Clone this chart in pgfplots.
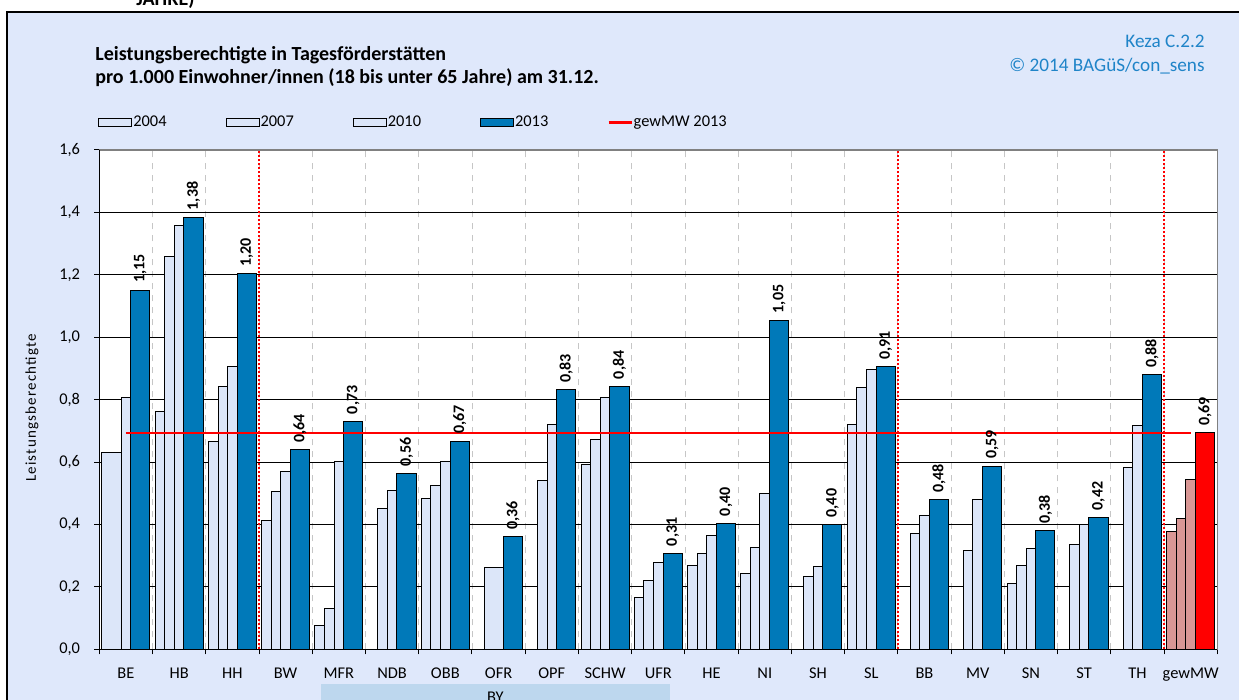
\documentclass[border=0pt]{standalone}
\usepackage{fontspec}
\setmainfont{Carlito}
\usepackage{pgfplots}
\pgfplotsset{compat=1.18}
\definecolor{bgblue}{HTML}{DFE8FB}
\definecolor{barlight}{HTML}{DCE6F9}
\definecolor{barblue}{HTML}{0079B9}
\definecolor{barpink}{HTML}{D99795}
\definecolor{keza}{HTML}{1F84C8}
\definecolor{bybox}{HTML}{BDD7EE}
\newcommand{\tickfont}{\fontsize{8.2}{9.8}\selectfont}
\pgfplotsset{
  barleg/.style={legend image code/.code={\draw[##1] (0pt,-2pt) rectangle (16.5pt,2pt);}},
  lineleg/.style={legend image code/.code={\draw[##1] (0pt,0pt) -- (11.5pt,0pt);}},
  lbl/.style={nodes near coords,
    nodes near coords style={rotate=90, anchor=west, text=black, font=\fontsize{8}{9}\selectfont\bfseries,
    /pgf/number format/fixed, /pgf/number format/fixed zerofill, /pgf/number format/precision=2}},
}
\begin{document}
\begin{tikzpicture}
\clip (-49.65pt,-25.35pt) rectangle (569.85pt,324.65pt);
\fill[white] (-49.65pt,-25.35pt) rectangle (569.85pt,324.65pt);
\draw[black, line width=0.8pt, fill=bgblue] (-46.15pt,318.65pt) rectangle (590pt,-45pt);
\node[anchor=base west, inner sep=0pt, font=\fontsize{10}{12}\selectfont\bfseries] at (18.35pt,321.65pt) {JAHRE)};
\node[anchor=base west, inner sep=0pt, font=\fontsize{10}{12}\selectfont\bfseries] at (-2.15pt,294.15pt) {Leistungsberechtigte in Tagesförderstätten};
\node[anchor=base west, inner sep=0pt, font=\fontsize{10}{12}\selectfont\bfseries] at (-2.15pt,282.65pt) {pro 1.000 Einwohner/innen (18 bis unter 65 Jahre) am 31.12.};
\node[anchor=base east, inner sep=0pt, text=keza, font=\fontsize{9.6}{11}\selectfont] at (552.85pt,300.65pt) {Keza C.2.2};
\node[anchor=base east, inner sep=0pt, text=keza, font=\fontsize{9.6}{11}\selectfont] at (552.85pt,288.65pt) {© 2014 BAGüS/con\_sens};
\fill[bybox] (110.7pt,-17.35pt) rectangle (285.35pt,-45pt);
\node[anchor=north, inner sep=0pt, font=\tickfont] at (198pt,-21.3pt) {BY};
\node[rotate=90, inner sep=0pt, font=\fontsize{7.5}{9}\selectfont\addfontfeatures{LetterSpace=8}] at (-33.65pt,120.65pt) {Leistungsberechtigte};
\begin{axis}[
  at={(0pt,0pt)}, anchor=south west,
  width=559pt, height=249.65pt, scale only axis,
  xmin=-0.5, xmax=20.5, ymin=0, ymax=1.6,
  ybar, bar width=0.36,
  axis background/.style={fill=white},
  axis line style={draw=gray, line width=0.6pt},
  xtick={-0.5,0.5,...,20.5}, xticklabels={},
  extra x ticks={0,1,...,20},
  extra x tick labels={BE,HB,HH,BW,MFR,NDB,OBB,OFR,OPF,SCHW,UFR,HE,NI,SH,SL,BB,MV,SN,ST,TH,gewMW},
  extra x tick style={major tick length=0pt, grid=none},
  ytick={0,0.2,0.4,0.6,0.8,1.0,1.2,1.4,1.6},
  xtick pos=bottom, ytick pos=left,
  tick align=outside, major tick length=2.5pt,
  tick style={black, line width=0.5pt},
  xmajorgrids, ymajorgrids,
  x grid style={gray!45, dashed, line width=0.4pt},
  y grid style={black, line width=0.5pt},
  /pgf/number format/assume math mode=true,
  /pgf/number format/use comma,
  yticklabel style={font=\tickfont, xshift=-3.6pt, /pgf/number format/fixed, /pgf/number format/fixed zerofill, /pgf/number format/precision=1},
  xticklabel style={font=\tickfont, yshift=-5.8pt},
  legend columns=5,
  legend style={at={(axis description cs:-0.0012,1.055)}, anchor=west, draw=none, fill=none, inner sep=0pt,
    font=\tickfont, nodes={inner sep=0.5pt},
    /tikz/every even column/.append style={column sep=29pt}},
  clip=false,
]
% 2004
\addplot[bar shift=-0.27, fill=barlight, draw=black, line width=0.5pt, barleg]
  coordinates {(0,0.630) (1,0.763) (2,0.667) (3,0.413) (4,0.077) (6,0.484) (9,0.592) (10,0.165) (11,0.269) (12,0.244) (14,0.719) (17,0.212)};
\addlegendentry{2004}
\addplot[forget plot, bar shift=-0.27, fill=barpink, draw=black, line width=0.5pt]
  coordinates {(20,0.377)};
% 2007
\addplot[bar shift=-0.09, fill=barlight, draw=black, line width=0.5pt, barleg]
  coordinates {(1,1.260) (2,0.843) (3,0.505) (4,0.132) (5,0.452) (6,0.524) (7,0.261) (8,0.540) (9,0.671) (10,0.221) (11,0.308) (12,0.325) (13,0.233) (14,0.839) (15,0.372) (16,0.316) (17,0.269) (18,0.336) (19,0.583)};
\addlegendentry{2007}
\addplot[forget plot, bar shift=-0.09, fill=barpink, draw=black, line width=0.5pt]
  coordinates {(20,0.420)};
% 2010
\addplot[bar shift=0.09, fill=barlight, draw=black, line width=0.5pt, barleg]
  coordinates {(0,0.808) (1,1.359) (2,0.907) (3,0.571) (4,0.603) (5,0.508) (6,0.603) (8,0.719) (9,0.808) (10,0.277) (11,0.365) (12,0.500) (13,0.265) (14,0.898) (15,0.428) (16,0.480) (17,0.324) (18,0.400) (19,0.716)};
\addlegendentry{2010}
\addplot[forget plot, bar shift=0.09, fill=barpink, draw=black, line width=0.5pt]
  coordinates {(20,0.544)};
% 2013
\addplot[bar shift=0.27, fill=barblue, draw=black, line width=0.5pt, barleg, lbl]
  coordinates {(0,1.151) (1,1.384) (2,1.203) (3,0.639) (4,0.731) (5,0.564) (6,0.667) (7,0.360) (8,0.831) (9,0.843) (10,0.308) (11,0.404) (12,1.054) (13,0.400) (14,0.906) (15,0.479) (16,0.587) (17,0.380) (18,0.423) (19,0.879)};
\addlegendentry{2013}
\addplot[forget plot, bar shift=0.27, fill=red, draw=black, line width=0.5pt, lbl]
  coordinates {(20,0.694)};
% separators
\draw[red, line width=1pt, dash pattern=on 1pt off 1pt] (2.5,0) -- (2.5,1.6);
\draw[red, line width=1pt, dash pattern=on 1pt off 1pt] (14.5,0) -- (14.5,1.6);
\draw[red, line width=1pt, dash pattern=on 1pt off 1pt] (19.5,0) -- (19.5,1.6);
% mean line
\addplot[sharp plot, red, line width=1.2pt, mark=none, lineleg]
  coordinates {(0,0.694) (1,0.694) (2,0.694) (3,0.694) (4,0.694) (5,0.694) (6,0.694) (7,0.694) (8,0.694) (9,0.694) (10,0.694) (11,0.694) (12,0.694) (13,0.694) (14,0.694) (15,0.694) (16,0.694) (17,0.694) (18,0.694) (19,0.694) (20,0.694)};
\addlegendentry{gewMW 2013}
\draw[black, line width=0.6pt] (rel axis cs:0,1) -- (rel axis cs:0,0) -- (rel axis cs:1,0);
\end{axis}
\end{tikzpicture}
\end{document}
